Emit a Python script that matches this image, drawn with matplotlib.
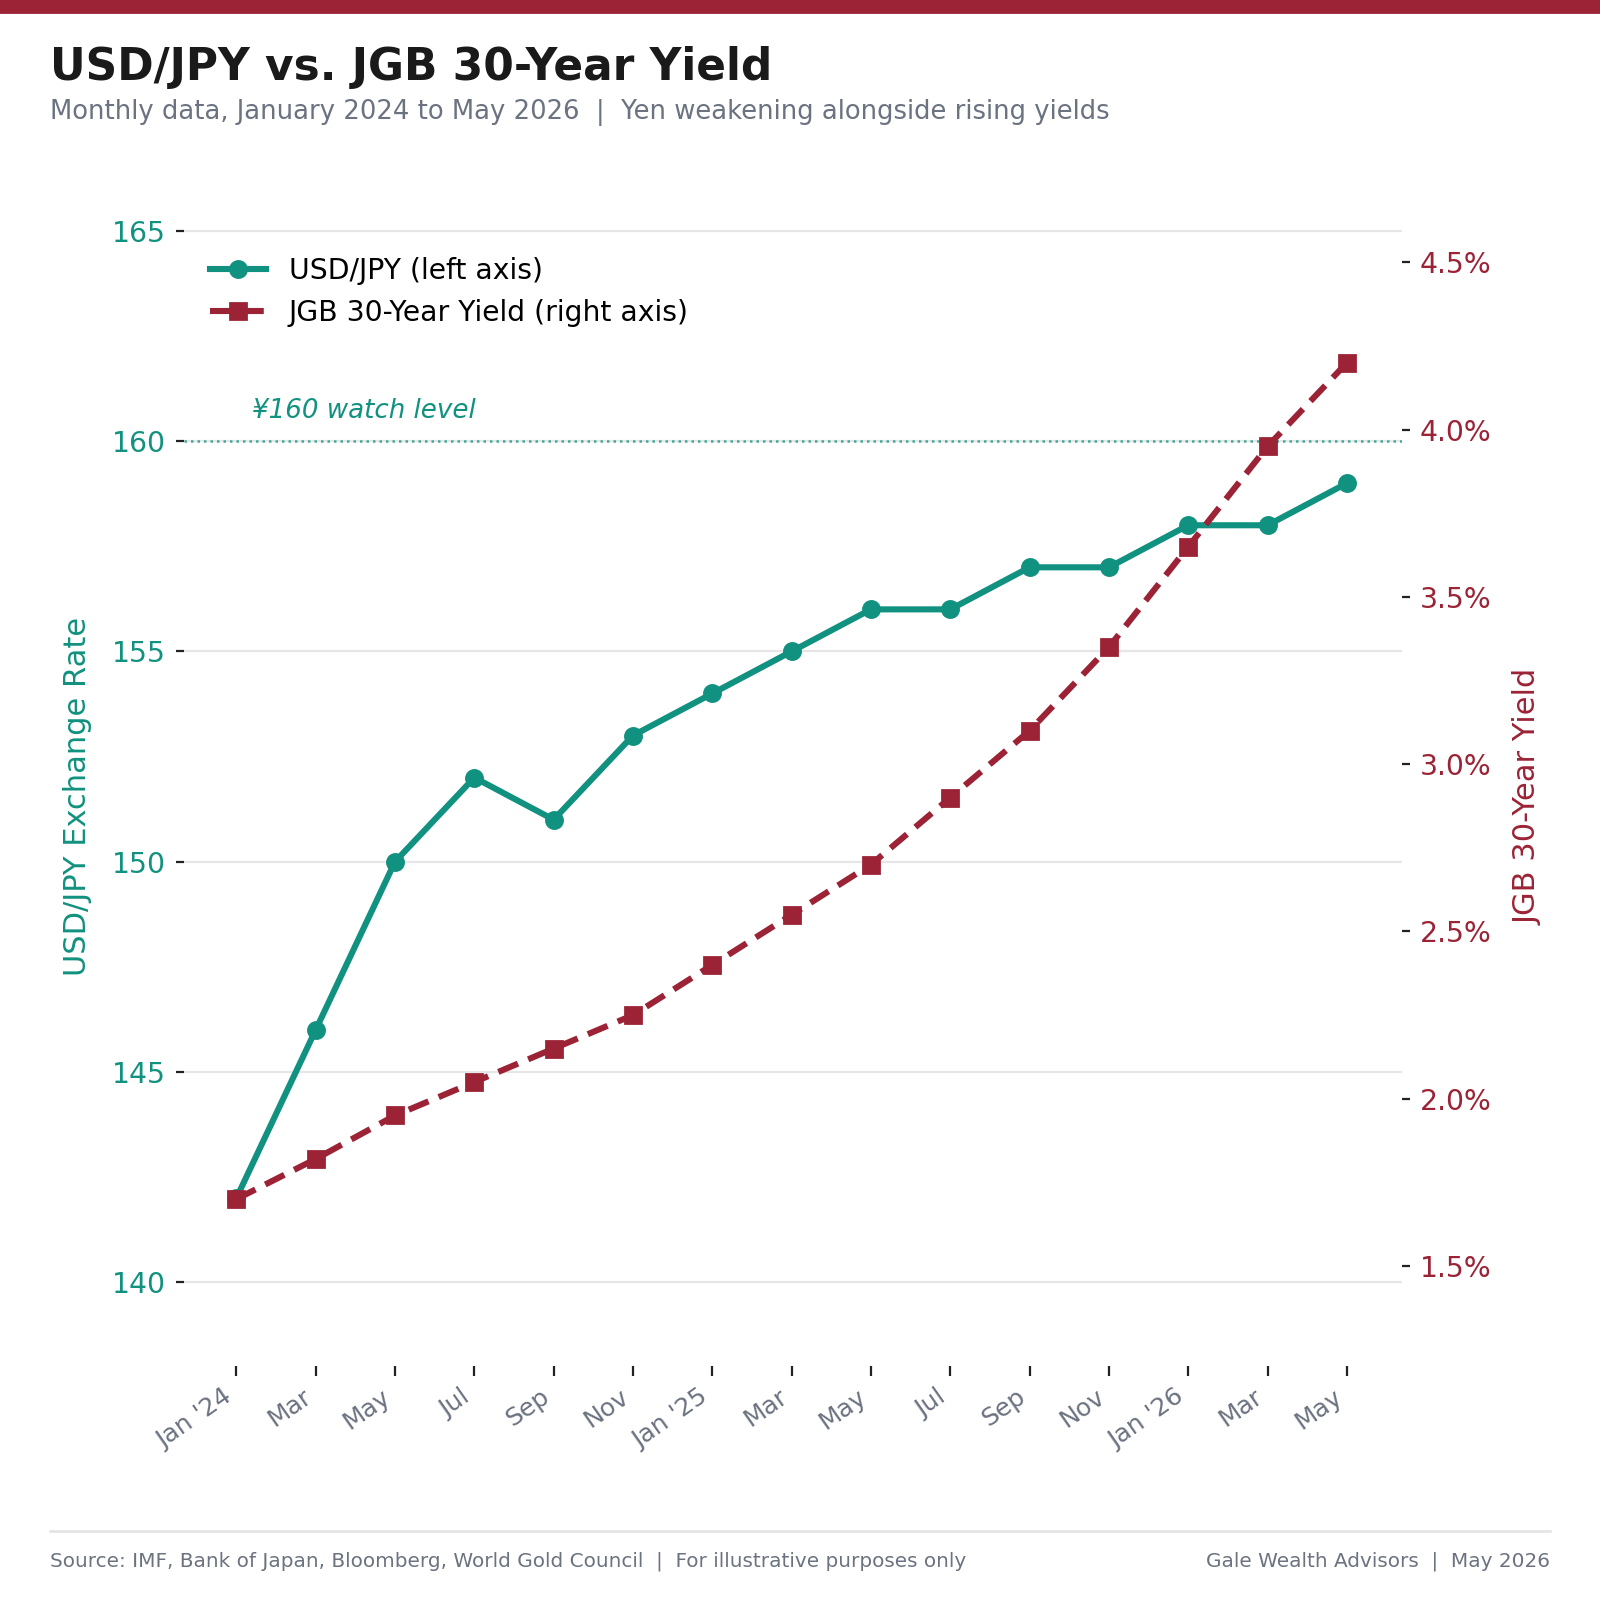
import matplotlib.pyplot as plt
from matplotlib.ticker import FuncFormatter

# Dados
meses = ["Jan '24", "Mar", "May", "Jul", "Sep", "Nov", "Jan '25", "Mar", "May",
         "Jul", "Sep", "Nov", "Jan '26", "Mar", "May"]
usdjpy = [142, 146, 150, 152, 151, 153, 154, 155, 156, 156, 157, 157, 158, 158, 159]
jgb30 = [1.70, 1.82, 1.95, 2.05, 2.15, 2.25, 2.40, 2.55, 2.70, 2.90, 3.10, 3.35,
         3.65, 3.95, 4.20]
yticks_esq = [140, 145, 150, 155, 160, 165]
yticks_dir = [1.5, 2.0, 2.5, 3.0, 3.5, 4.0, 4.5]

TEAL = "#11917f"
CRIMSON = "#9b2335"
GRAY = "#6b7280"

fig = plt.figure(figsize=(8, 8), dpi=200)
ax = fig.add_axes([0.115, 0.146, 0.761, 0.736])
ax2 = ax.twinx()

x = list(range(len(meses)))

l1, = ax.plot(x, usdjpy, color=TEAL, lw=2.2, marker="o", ms=5.8,
              label="USD/JPY (left axis)", zorder=3)
l2, = ax2.plot(x, jgb30, color=CRIMSON, lw=2.2, ls=(0, (3.5, 1.8)), marker="s",
               ms=5.5, label="JGB 30-Year Yield (right axis)", zorder=3)

# linha de referencia
ax.axhline(160, color=TEAL, lw=0.9, ls=(0, (1, 1.6)), alpha=0.75, zorder=1)
ax.text(0.2, 160.4, "¥160 watch level", color=TEAL, fontsize=9.4,
        style="italic", ha="left", va="bottom")

ax.set_xlim(-0.66, 14.69)
ax.set_ylim(138, 166)
ax2.set_ylim(1.2, 4.72)

ax.set_xticks(x)
ax.set_xticklabels(meses, rotation=35, ha="right", color=GRAY, fontsize=9)
ax.set_yticks(yticks_esq)
ax2.set_yticks(yticks_dir)
ax2.yaxis.set_major_formatter(FuncFormatter(lambda v, p: f"{v:.1f}%"))

ax.tick_params(axis="y", colors="#222222", labelcolor=TEAL, labelsize=10.2,
               length=3, width=0.8, pad=3.5)
ax2.tick_params(axis="y", colors="#222222", labelcolor=CRIMSON, labelsize=10.2,
                length=3, width=0.8, pad=3.5)
ax.tick_params(axis="x", colors="#222222", labelcolor=GRAY, length=3.5, width=0.8,
               pad=3)

for a in (ax, ax2):
    for s in a.spines.values():
        s.set_visible(False)

ax.grid(axis="y", color="#e6e6e6", lw=0.8)
ax.set_axisbelow(True)

ax.set_ylabel("USD/JPY Exchange Rate", color=TEAL, fontsize=11, labelpad=7)
ax2.set_ylabel("JGB 30-Year Yield", color=CRIMSON, fontsize=11, labelpad=8)
ax.yaxis.label.set_y(0.484)
ax2.yaxis.label.set_y(0.484)

leg = ax.legend(handles=[l1, l2], loc="upper left", frameon=False, fontsize=10.2,
                bbox_to_anchor=(0.0, 0.964), handlelength=2.0, handletextpad=0.8,
                labelspacing=0.5)

# cabecalho
fig.patches.append(plt.Rectangle((0, 0.9925), 1, 0.0075, transform=fig.transFigure,
                                 color=CRIMSON, zorder=5))
fig.text(0.031, 0.958, "USD/JPY vs. JGB 30-Year Yield", fontsize=15.8,
         fontweight="bold", color="#1a1a1a", va="center")
fig.text(0.031, 0.930,
         "Monthly data, January 2024 to May 2026  |  Yen weakening alongside rising yields",
         fontsize=9.3, color=GRAY, va="center")

# rodape
fig.add_artist(plt.Line2D([0.031, 0.969], [0.043, 0.043], color="#e3e3e3", lw=0.9,
                          transform=fig.transFigure))
fig.text(0.031, 0.024,
         "Source: IMF, Bank of Japan, Bloomberg, World Gold Council  |  For illustrative purposes only",
         fontsize=7.2, color=GRAY, va="center")
fig.text(0.969, 0.024, "Gale Wealth Advisors  |  May 2026", fontsize=7.2,
         color=GRAY, va="center", ha="right")

fig.savefig("out.png", dpi=200)
